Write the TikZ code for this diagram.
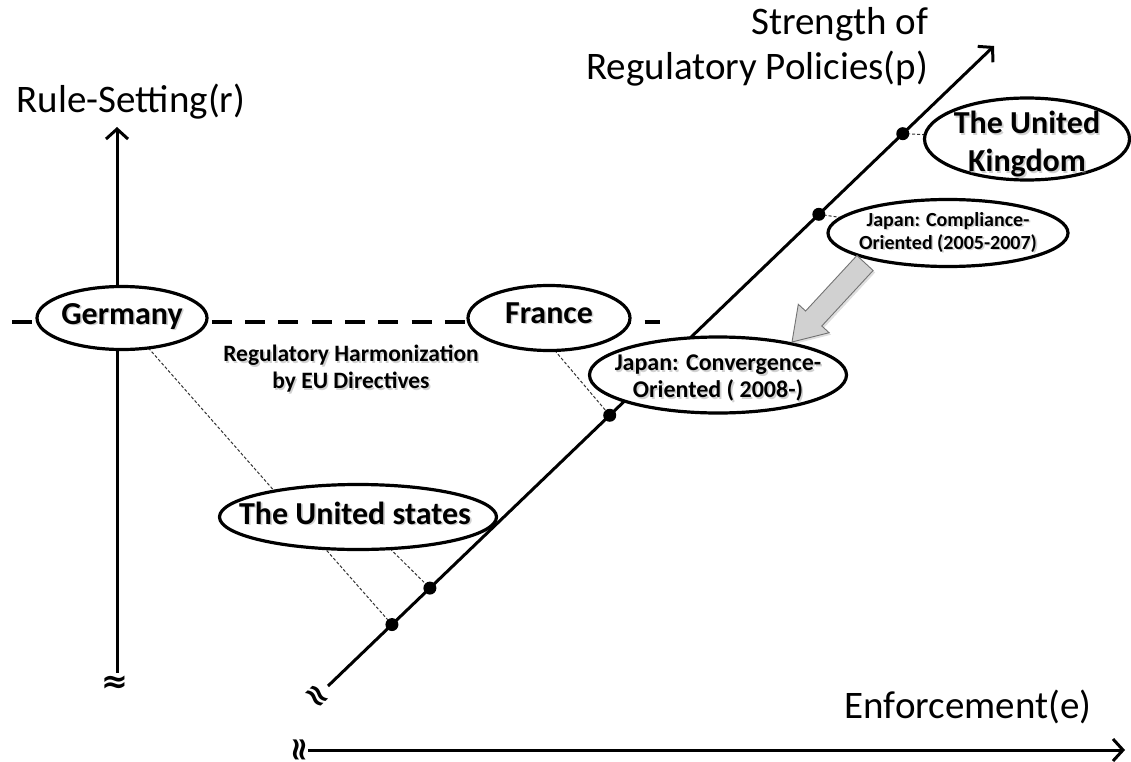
\documentclass[tikz,border=0pt]{standalone}
\usepackage{fontspec}
\setmainfont{Carlito}
\newfontfamily\symfont{DejaVu Sans}
\usetikzlibrary{shapes.geometric,arrows.meta,calc,backgrounds,shadows}
\begin{document}
\begin{tikzpicture}[x=1pt,y=-1pt,
  every node/.style={inner sep=0pt, outer sep=0pt},
  axis/.style={line width=3pt, -{Straight Barb[length=10pt,width=22pt]}},
  oval/.style={draw, ellipse, line width=3.2pt, fill=white},
  lbl/.style={font=\fontsize{39}{47}\selectfont},
  ctry/.style={font=\bfseries\fontsize{32}{38}\selectfont, align=center},
  dot/.style={circle, fill=black, minimum size=13pt},
  proj/.style={densely dashed, line width=1pt, black!80},
  brk/.style={font=\symfont\bfseries\fontsize{32}{32}\selectfont},
  harmline/.style={line width=4.5pt, dash pattern=on 20pt off 13.3pt},
  shd/.style={text=black!40, opacity=0.45}
]
\useasboundingbox (0,0) rectangle (1131,762);

% axis end points
\coordinate (rbot) at (117,673);
\coordinate (rtop) at (117,127);
\coordinate (pA) at (328,686);
\coordinate (pB) at (994,46);
\coordinate (ebot) at (308,750);
\coordinate (etop) at (1125,750);
\coordinate (hl) at (12,322);
\coordinate (hr) at (660,322);

% country ovals
\node[oval, minimum width=170pt, minimum height=63pt] (ge) at (122,318) {};
\node[oval, minimum width=162pt, minimum height=65pt] (fr) at (549,318) {};
\node[oval, minimum width=277pt, minimum height=65pt] (us) at (358,517) {};
\node[oval, minimum width=257pt, minimum height=76pt] (jv) at (718,375) {};
\node[oval, minimum width=240pt, minimum height=67pt] (jc) at (948,233) {};
\node[oval, minimum width=205pt, minimum height=82pt] (uk) at (1027,139) {};

% soft text shadows
\begin{scope}[shift={(1.6,1.6)}]
\node[ctry, shd, anchor=base] at (122,324) {Germany};
\node[ctry, shd, anchor=base] at (549,323) {France};
\node[ctry, shd] at (355,513) {The United states};
\node[ctry, shd] at (1027,144) {The United\\Kingdom};
\node[shd, font=\bfseries\fontsize{24}{27}\selectfont, align=center] at (718,378) {Japan: Convergence-\\Oriented ( 2008-)};
\node[shd, font=\bfseries\fontsize{20}{23}\selectfont, align=center] at (948,232) {Japan: Compliance-\\Oriented (2005-2007)};
\node[shd, font=\bfseries\fontsize{23.5}{27}\selectfont, align=center] at (351,369) {Regulatory Harmonization\\by EU Directives};
\end{scope}

% oval texts
\node[ctry, anchor=base] at (122,324) {Germany};
\node[ctry, anchor=base] at (549,323) {France};
\node[ctry] at (355,513) {The United states};
\node[ctry] at (1027,144) {The United\\Kingdom};
\node[font=\bfseries\fontsize{24}{27}\selectfont, align=center] at (718,378) {Japan: Convergence-\\Oriented ( 2008-)};
\node[font=\bfseries\fontsize{20}{23}\selectfont, align=center] at (948,232) {Japan: Compliance-\\Oriented (2005-2007)};
\node[font=\bfseries\fontsize{23.5}{27}\selectfont, align=center] at (351,369) {Regulatory Harmonization\\by EU Directives};

% axis labels
\node[lbl, anchor=base] at (131,113) {Rule-Setting(r)};
\node[lbl, anchor=base east] at (928,35) {Strength of};
\node[lbl, anchor=base east] at (928,80) {Regulatory Policies(p)};
\node[lbl, anchor=base] at (968,718) {Enforcement(e)};

% points on the policy axis
\node[dot] (d1) at ($(pA)!0.096!(pB)$) {};
\node[dot] (d2) at ($(pA)!0.153!(pB)$) {};
\node[dot] (d3) at ($(pA)!0.423!(pB)$) {};
\node[dot] (d4) at ($(pA)!0.737!(pB)$) {};
\node[dot] (d5) at ($(pA)!0.863!(pB)$) {};

% axis breaks
\node[brk] at (115,684) {≈};
\node[brk, rotate=-46] at (316,697) {≈};
\node[brk, rotate=-90] at (298,750) {≈};

% shift arrow from compliance to convergence
\filldraw[draw=black!55, fill=black!18, line width=0.9pt,
  drop shadow={opacity=0.25, shadow xshift=2pt, shadow yshift=-2pt}]
  (856.9,255.5) -- (873.1,270.5) -- (821.8,326.0) -- (829.1,332.7)
  -- (792,342) -- (798.3,304.3) -- (805.6,311.0) -- cycle;

\begin{scope}[on background layer]
  \draw[harmline] (hl) -- (hr);
  \draw[axis] (rbot) -- (rtop);
  \draw[axis] (pA) -- (pB);
  \draw[axis] (ebot) -- (etop);
  \draw[proj] (ge) -- (d1);
  \draw[proj] (us) -- (d2);
  \draw[proj] (fr.-80) -- (d3);
  \draw[proj] (jc) -- (d4);
  \draw[proj] (uk) -- (d5);
\end{scope}
\end{tikzpicture}
\end{document}
